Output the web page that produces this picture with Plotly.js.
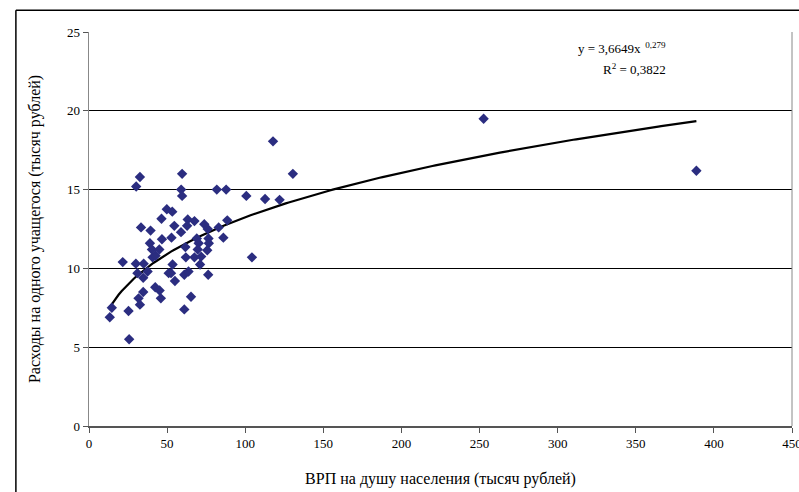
<!DOCTYPE html>
<html>
<head>
<meta charset="utf-8">
<script src="https://cdn.plot.ly/plotly-3.0.1.min.js"></script>
<style>html,body{margin:0;padding:0;background:#fff;}#chart{width:799px;height:492px;}</style>
</head>
<body>
<div id="chart"></div>
<script>
// ВРП на душу населения (тысяч рублей)
var grpPerCapita = [13.3,14.6,25.7,25.3,21.6,30,35,31,34.7,37.5,40.7,42.6,34.7,31.7,32.6,42.4,45.2,46,53.5,51,52.5,55,62,61,63.7,65.3,61,67.5,71.8,71.1,76.3,32.6,30.2,59.6,59,59.6,49.8,53.3,46.4,33.3,39.4,54.6,63.2,67.5,58.9,62.8,73.8,39,46.7,52.8,61.7,40.3,45,117.8,130.5,81.8,87.8,100.7,112.7,122,88.5,83,76,76.5,76.7,75.7,86,104.3,69,70.2,69.6,252.6,388.8];
// Расходы на одного учащегося (тысяч рублей)
var spendingPerPupil = [6.9,7.5,5.5,7.3,10.4,10.3,10.3,9.7,9.4,9.8,10.7,10.8,8.5,8.1,7.7,8.8,8.6,8.1,10.25,9.7,9.7,9.2,10.7,9.6,9.8,8.2,7.4,10.7,10.75,10.25,9.6,15.8,15.2,16.0,15.0,14.6,13.75,13.6,13.15,12.6,12.4,12.7,13.1,13.0,12.3,12.7,12.8,11.6,11.85,11.95,11.35,11.2,11.2,18.06,16.0,15.0,15.0,14.6,14.4,14.35,13.05,12.6,12.5,11.9,11.6,11.15,11.95,10.7,11.9,11.6,11.2,19.5,16.2];

// Power trendline shown on the chart: y = 3,6649x^0,279
var trendA = 3.6649;
var trendB = 0.279;
var trendRange = [13.3, 388.8];
var eqText = "y = 3,6649x<sup>  0,279</sup>";
var r2Text = "R<sup>2</sup> = 0,3822";

var xTickVals = [0,50,100,150,200,250,300,350,400,450];
var yTickVals = [0,5,10,15,20,25];

var trendX = [], trendY = [];
var nSteps = 200;
for (var i = 0; i <= nSteps; i++) {
  var xv = trendRange[0] + (trendRange[1] - trendRange[0]) * i / nSteps;
  trendX.push(xv);
  trendY.push(trendA * Math.pow(xv, trendB));
}

var serif = "'Liberation Serif', 'Times New Roman', serif";

var data = [
  {
    x: trendX, y: trendY, type: 'scatter', mode: 'lines',
    line: {color: '#000000', width: 2.2}, hoverinfo: 'skip', showlegend: false
  },
  {
    x: grpPerCapita, y: spendingPerPupil, type: 'scatter', mode: 'markers',
    marker: {symbol: 'diamond', size: 8, color: '#2b2d80', line: {width: 0}},
    showlegend: false
  }
];

var layout = {
  width: 799, height: 492,
  margin: {l: 89, r: 7, t: 32, b: 66},
  paper_bgcolor: '#ffffff', plot_bgcolor: '#ffffff',
  font: {family: serif, size: 13, color: '#000000'},
  showlegend: false,
  xaxis: {
    range: [0, 450], tickvals: xTickVals, ticktext: xTickVals.map(String),
    ticklabeloverflow: 'allow',
    showgrid: false, zeroline: false,
    showline: true, linecolor: '#555555', linewidth: 1.5,
    ticks: 'outside', ticklen: 5, tickcolor: '#555555',
    tickfont: {family: serif, size: 13},
    title: {text: 'ВРП на душу населения (тысяч рублей)', font: {family: serif, size: 16}, standoff: 22}
  },
  yaxis: {
    range: [0, 25], tickvals: yTickVals, ticktext: yTickVals.map(String),
    showgrid: true, gridcolor: '#000000', gridwidth: 1,
    zeroline: false,
    showline: true, linecolor: '#888888', linewidth: 1.5,
    ticks: 'outside', ticklen: 5, tickcolor: '#555555',
    tickfont: {family: serif, size: 13},
    title: {text: 'Расходы на одного учащегося (тысяч рублей)', font: {family: serif, size: 16}, standoff: 22}
  },
  shapes: [
    {type: 'line', xref: 'paper', yref: 'paper', x0: 1, x1: 1, y0: 0, y1: 1, line: {color: '#888888', width: 1}},
    {type: 'line', xref: 'paper', yref: 'paper', x0: -0.104, x1: 1.05, y0: 1.055, y1: 1.055, line: {color: '#000000', width: 1.5}},
    {type: 'line', xref: 'paper', yref: 'paper', x0: -0.104, x1: -0.104, y0: -0.3, y1: 1.055, line: {color: '#000000', width: 1.5}}
  ],
  annotations: [
    {x: 341, y: 24.0, xref: 'x', yref: 'y', text: eqText, showarrow: false, font: {family: serif, size: 13}},
    {x: 349, y: 22.65, xref: 'x', yref: 'y', text: r2Text, showarrow: false, font: {family: serif, size: 13}}
  ]
};

Plotly.newPlot('chart', data, layout, {displayModeBar: false, staticPlot: true});
</script>
</body>
</html>
